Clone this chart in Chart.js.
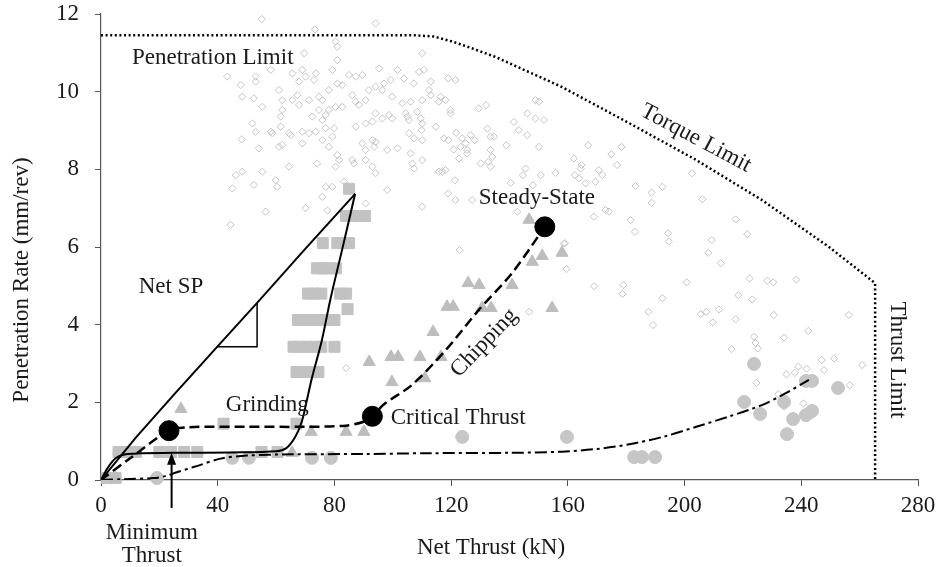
<!DOCTYPE html>
<html>
<head>
<meta charset="utf-8">
<script src="https://cdn.jsdelivr.net/npm/chart.js@4.4.1/dist/chart.umd.min.js"></script>
<style>
  body { margin: 0; background: #fff; }
  canvas { display: block; }
</style>
</head>
<body>
<canvas id="chart" width="939" height="567"></canvas>
<script>
// axis ticks
const xTicks = [0, 40, 80, 120, 160, 200, 240, 280];
const yTicks = [0, 2, 4, 6, 8, 10, 12];

// grey hollow diamonds (all TBM data)
const diamonds = [
  [55.1,11.87],[94.1,11.76],[73.3,11.6],[80.4,11.29],[81,11.16],[69.6,10.99],[110.1,10.99],[81,10.81],
  [43.3,10.39],[47.9,10.17],[48.4,9.87],[53,10.39],[53,10.26],[58.2,10.56],[65.6,10.47],[69,10.56],
  [70.1,10.39],[73.6,10.47],[73,10.3],[67.9,10.26],[79.3,10.56],[85,10.43],[87.3,10.39],[89.6,10.43],
  [95.3,10.6],[101.6,10.56],[103.8,10.34],[109,10.51],[110.7,10.56],[113,10.26],[61,10.04],[62.1,9.78],
  [65.6,9.78],[67.3,9.91],[67.9,9.66],[71.3,9.78],[74.7,9.87],[75.9,9.78],[78.1,10.04],[81,10.21],
  [82.7,10.17],[86.1,9.91],[87.3,9.74],[88.4,9.66],[90.7,9.78],[91.8,10.04],[94.1,10.13],[96.4,10.04],
  [97,10.21],[99.3,10.3],[99.8,9.87],[103.3,9.7],[106.1,9.74],[108.4,9.48],[110.1,9.78],[112.4,10.04],
  [52.4,9.83],[55.3,9.61],[51.9,9.18],[53,8.97],[58.2,8.97],[61.6,9.1],[61.6,9.36],[62.1,9.53],
  [64.4,8.93],[69,8.97],[72.4,9.36],[74.7,9.53],[77,9.4],[78.1,9.53],[80.4,9.61],[82.7,9.61],
  [75.9,9.27],[73.6,8.97],[77,9.06],[79.9,9.06],[87.3,9.1],[90.7,9.18],[93,9.23],[94.1,9.44],
  [96.4,9.31],[98.7,9.4],[99.8,9.31],[105,9.36],[109.6,9.31],[110.1,9.18],[114.7,9.1],[48.2,8.77],
  [54.1,8.54],[58.7,8.93],[61,8.58],[62.1,8.63],[65,8.88],[69,8.67],[71.3,8.93],[75.9,8.75],
  [78.1,8.58],[79.3,8.84],[89.6,8.67],[90.7,8.5],[93,8.75],[94.1,8.71],[93.6,8.58],[98.1,8.5],
  [101.6,8.54],[105.6,8.93],[107.3,8.8],[110.1,8.75],[81,8.37],[81.6,8.24],[80.4,8.07],[86.1,8.24],
  [86.7,8.15],[90.7,8.24],[93,8.07],[94.1,7.9],[106.1,8.41],[106.7,8.15],[107.3,8.02],[110.1,8.24],
  [74.1,8.15],[64.4,8.07],[59.9,7.72],[60.4,7.55],[55.3,7.94],[52.4,7.6],[48.4,7.94],[46.2,7.85],
  [45,7.51],[44.4,6.57],[77,7.55],[79.3,7.55],[83.3,7.68],[90.7,7.12],[98.1,7.47],[110.1,7.04],
  [115.8,7.94],[56.4,6.91],[70.1,7.0],[77.6,6.94],[75.8,7.29],
  [107.2,10.21],[119,10.34],[121.5,10.3],[113,9.91],[116.4,9.87],[118.1,9.78],[115.8,9.74],[119.8,9.52],
  [119.8,9.44],[129.5,9.57],[132,9.65],[104.4,9.44],[105.5,9.27],[109.9,9.01],[121.7,8.94],[117.5,8.8],
  [119,8.75],[123.8,8.8],[125,8.67],[126.7,8.88],[128.1,8.75],[132.4,9.05],[133.5,8.84],[134.7,8.84],
  [141.5,9.22],[143.2,9.01],[146.1,8.88],[146.1,9.44],[148.9,9.78],[150.1,9.74],[148.9,9.31],[151.8,9.27],
  [120.9,8.51],[123.2,8.58],[125.5,8.5],[122.7,8.28],[125.5,8.41],[130.1,8.15],[132.7,8.19],[133.5,8.07],
  [134.1,8.32],[133.5,8.5],[117,7.94],[118.1,7.98],[121.3,7.72],[138.9,8.62],[150.1,8.58],[167,8.62],
  [162.1,8.28],[164.7,8.11],[164.4,8.02],[145.5,8.02],[144.6,7.85],[150.7,7.85],[155.8,7.91],[162.4,7.85],
  [163.8,7.77],[166.1,7.64],[169.5,7.68],[170.6,7.98],[171.8,7.85],[174.9,8.39],[178.4,8.58],[176.9,8.11],
  [183.2,7.57],[140.4,7.65],[148,7.59],[119,7.38],[121.5,7.21],[127.2,7.21],[142.7,6.91],[168.9,6.78],
  [172.9,6.95],[174.1,6.91],[181.5,6.69],[183,6.39],[158.6,6.09],[122.9,5.92],[159,6.1],
  [202.6,7.9],[206.1,7.23],[217.5,6.71],[209.3,6.18],[221.5,6.33],[194.4,6.35],[194.6,6.14],[192.4,7.55],
  [188.7,7.4],[188.7,7.14],
  [208.1,5.85],[212.4,5.58],[159.5,5.43],[169,4.99],[179,5.02],[178.7,4.79],[192.4,4.68],[200.7,5.09],
  [222.3,5.19],[223.2,4.65],[228.3,5.13],[230.4,5.09],[238.3,5.16],[218.4,4.76],[187.6,4.33],[189.2,3.99],
  [205.5,4.27],[207.4,4.33],[209.7,4.06],[211.8,4.39],[217.5,4.14],[230.6,4.25],[223.8,3.69],[224.3,3.53],
  [225.1,3.39],[216.1,3.37],[234.1,3.67],[242.4,3.84],[256.3,4.25],[247,3.09],[247.8,2.83],[251.2,3.13],
  [260.9,2.96],[234.9,2.72],[237.8,2.76],[239,2.92],[241.8,2.87],[224.6,2.5],[256.6,2.44],[232.1,2.21],
  [233.8,2.06],[234.1,1.89],[240.7,1.97],[243.8,1.67],[84,2.88],[146.7,4.33]
];

// grey squares (grinding)
const squares = [
  [85,7.5],[84,6.8],[86.5,6.8],[90.5,6.8],[76,6.1],[81,6.1],[83,6.1],[85,6.1],
  [74,5.45],[76,5.45],[78,5.45],[80.5,5.45],[71,4.8],[73,4.8],[75.5,4.8],[82,4.8],[84,4.8],[84.5,4.4],
  [67.5,4.12],[70,4.12],[73,4.12],[75.5,4.12],[78,4.12],[80,4.12],
  [66,3.43],[68,3.43],[70.5,3.43],[73,3.43],[75.5,3.43],[80,3.43],
  [67,2.78],[69.5,2.78],[72,2.78],[74.5,2.78],[42,1.45],[67,1.45],
  [6,0.72],[9,0.72],[12,0.72],[20,0.72],[24,0.72],[28.5,0.72],[33,0.72],[55,0.72],[60.5,0.72],
  [2,0.05],[5,0.05]
];

// grey triangles (chipping)
const triangles = [
  [146.7,6.7],[151.2,5.77],[147.8,5.62],[158,5.85],[125.8,5.07],[129.6,5.02],[140.9,5.02],
  [118.6,4.46],[120.7,4.46],[130.6,4.43],[133.7,4.43],[154.6,4.43],[113.8,3.81],
  [99.4,3.17],[101.8,3.17],[109.3,3.17],[116.5,3.17],[99.7,2.52],[111,2.62],[91.9,3.04],
  [27.4,1.83],[72,1.24],[84,1.24],[90.1,1.24],[65.5,0.7],[5,0.05]
];

// grey circles (no boring progress / low rate)
const circles = [
  [19.2,0.05],[45,0.57],[50.7,0.57],[72.3,0.57],[78.8,0.57],[123.8,1.11],[159.7,1.11],
  [182.7,0.59],[185.4,0.59],[189.9,0.59],[223.8,2.99],[220.4,2.01],[225.9,1.7],[234.1,2.01],
  [237.2,1.57],[235.1,1.18],[241.6,2.55],[243.7,2.55],[241.6,1.67],[243.7,1.78],[252.6,2.37]
];

// key points: minimum thrust, critical thrust, steady-state
const keyPoints = [[23.3,1.27],[93,1.64],[152.1,6.52]];

// operating limits (penetration, torque, thrust)
const limitLine = [
  [0,11.45],[108,11.45],[114,11.42],[120,11.3],[127,11.12],[135,10.9],[158,10.12],[181,9.19],
  [204,8.24],[226.5,7.21],[249.5,6.0],[265.3,5.07],[265.3,0]
];
// net specific penetration line
const netSpLine = [[0,0],[12,1.1],[25,2.2],[39.8,3.43],[53.5,4.56],[70,5.95],[87.1,7.37]];
// grinding boundary
const grindLine = [
  [87.1,7.37],[82.6,5.92],[78.6,4.65],[75.7,3.6],[72.2,2.6],[70.4,2.0],[68.8,1.5],[66.5,1.1],
  [63.5,0.82],[60,0.74],[45,0.71],[25,0.7],[9,0.67],[5,0.56],[2.2,0.3],[0,0]
];
// slope triangle
const slopeMark = [[39.8,3.43],[53.5,3.43],[53.5,4.56]];
// dashed trend through key points
const trendLine = [
  [0,0],[10,0.56],[23.3,1.27],[30,1.36],[50,1.37],[70,1.37],[84,1.4],[90,1.5],[93,1.64],
  [97,1.95],[106.6,2.45],[118.2,3.35],[129.5,4.38],[140.9,5.33],[152.1,6.52]
];
// dash-dot trend for circles
const lowLine = [
  [0,0],[8,0.02],[18,0.05],[22,0.1],[26,0.2],[32,0.34],[41,0.55],[50,0.63],[65,0.66],[90,0.67],
  [112,0.69],[140,0.7],[158,0.73],[170,0.8],[181,0.92],[193,1.12],[204,1.37],[215,1.63],
  [226.5,1.93],[235,2.25],[242.6,2.58]
];

// text annotations
const labelTexts = ['Penetration Limit', 'Torque Limit', 'Steady-State', 'Net SP', 'Grinding',
  'Critical Thrust', 'Chipping', 'Thrust Limit', 'Minimum', 'Thrust'];
const labelX = [10.6, 203.9, 149.4, 24, 57, 99.3, 131.3, 272.7, 17.4, 17.4];
const labelY = [10.87, 8.8, 7.26, 4.97, 1.93, 1.6, 3.53, 3.09, -1.36, -1.96];
const labelAngle = [0, 28, 0, 0, 0, 0, -46, 90, 0, 0];
const labelAlign = ['left', 'center', 'center', 'center', 'center', 'left', 'center', 'center', 'center', 'center'];

// minimum thrust arrow
const arrowX = 24.2;
const arrowFrom = -0.72;
const arrowTo = 0.7;

const serif = '"Liberation Serif", "Times New Roman", serif';

function pts(list) {
  return list.map(p => ({ x: p[0], y: p[1] }));
}

function lineSet(list, width, dash, tension) {
  return {
    data: pts(list),
    showLine: true,
    borderColor: '#000',
    borderWidth: width,
    borderDash: dash,
    tension: tension,
    pointRadius: 0,
    fill: false
  };
}

function markSet(list, style, radius, fill, stroke) {
  return {
    data: pts(list),
    pointStyle: style,
    pointRadius: radius,
    backgroundColor: fill,
    borderColor: stroke,
    borderWidth: 1,
    clip: false
  };
}

const notes = {
  id: 'notes',
  afterDatasetsDraw(chart) {
    const { ctx, scales: { x, y } } = chart;
    ctx.save();
    ctx.fillStyle = '#1a1a1a';
    ctx.textBaseline = 'middle';
    ctx.font = '23px ' + serif;
    labelTexts.forEach((t, i) => {
      ctx.save();
      ctx.translate(x.getPixelForValue(labelX[i]), y.getPixelForValue(labelY[i]));
      ctx.rotate(labelAngle[i] * Math.PI / 180);
      ctx.textAlign = labelAlign[i];
      ctx.fillText(t, 0, 0);
      ctx.restore();
    });

    // arrow up to minimum thrust
    const ax = x.getPixelForValue(arrowX);
    const top = y.getPixelForValue(arrowTo);
    const bot = y.getPixelForValue(arrowFrom);
    ctx.strokeStyle = '#000';
    ctx.lineWidth = 2;
    ctx.beginPath();
    ctx.moveTo(ax, bot);
    ctx.lineTo(ax, top + 8);
    ctx.stroke();
    ctx.fillStyle = '#000';
    ctx.beginPath();
    ctx.moveTo(ax, top);
    ctx.lineTo(ax - 4.5, top + 12);
    ctx.lineTo(ax + 4.5, top + 12);
    ctx.closePath();
    ctx.fill();

    // axis titles
    ctx.fillStyle = '#1a1a1a';
    ctx.font = '23px ' + serif;
    ctx.textAlign = 'center';
    ctx.fillText('Net Thrust (kN)', 491, 548);
    ctx.save();
    ctx.translate(22, 280);
    ctx.rotate(-Math.PI / 2);
    ctx.fillText('Penetration Rate (mm/rev)', 0, 0);
    ctx.restore();
    ctx.restore();
  }
};

const datasets = [
  Object.assign(markSet(keyPoints, 'circle', 10, '#000', '#000'), { order: 0 }),
  Object.assign(lineSet(limitLine, 2.5, [2, 2.6], 0), { order: 1 }),
  Object.assign(lineSet(netSpLine, 2, [], 0), { order: 1 }),
  Object.assign(lineSet(grindLine, 2, [], 0.3), { order: 1 }),
  Object.assign(lineSet(slopeMark, 1.5, [], 0), { order: 1 }),
  Object.assign(lineSet(trendLine, 2.5, [10, 5], 0.3), { order: 1 }),
  Object.assign(lineSet(lowLine, 2, [12, 4, 3, 4], 0.3), { order: 1 }),
  Object.assign(markSet(circles, 'circle', 6.5, '#c6c6c6', '#c6c6c6'), { order: 2 }),
  Object.assign(markSet(triangles, 'triangle', 7, '#bdbdbd', '#bdbdbd'), { order: 2 }),
  Object.assign(markSet(squares, 'rect', 7.8, '#c2c2c2', '#c2c2c2'), { order: 2 }),
  Object.assign(markSet(diamonds, 'rectRot', 3.6, 'rgba(255,255,255,0)', '#c4c4c4'), { order: 3 })
];

new Chart(document.getElementById('chart'), {
  type: 'scatter',
  data: { datasets: datasets },
  options: {
    responsive: false,
    animation: false,
    layout: { padding: { top: 14, right: 21, left: 0, bottom: 0 } },
    plugins: { legend: { display: false }, tooltip: { enabled: false } },
    scales: {
      x: {
        type: 'linear', min: 0, max: 280,
        afterBuildTicks: s => { s.ticks = xTicks.map(v => ({ value: v })); },
        afterFit: s => { s.height = 87; s.paddingLeft = 0; s.paddingRight = 0; },
        ticks: { autoSkip: false, maxRotation: 0, padding: 6, color: '#1a1a1a', font: { family: serif, size: 23 } },
        grid: { drawOnChartArea: false, tickLength: 6, color: '#555' },
        border: { color: '#555', width: 1.2 }
      },
      y: {
        type: 'linear', min: 0, max: 12,
        afterBuildTicks: s => { s.ticks = yTicks.map(v => ({ value: v })); },
        afterFit: s => { s.width = 101; s.paddingTop = 0; s.paddingBottom = 0; },
        ticks: { autoSkip: false, padding: 16, color: '#1a1a1a', font: { family: serif, size: 23 } },
        grid: { drawOnChartArea: false, tickLength: 6, color: '#555' },
        border: { color: '#555', width: 1.2 }
      }
    }
  },
  plugins: [notes]
});
</script>
</body>
</html>
